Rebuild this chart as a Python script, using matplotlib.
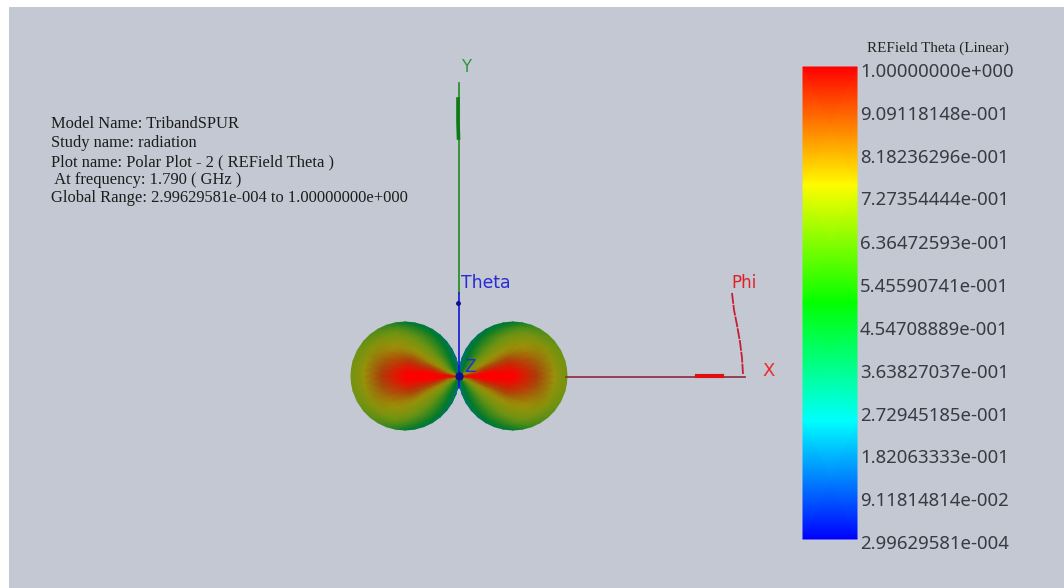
import numpy as np
import matplotlib
matplotlib.use('Agg')
import matplotlib.pyplot as plt
from matplotlib.colors import LinearSegmentedColormap

# info block
info_lines = ["Model Name: TribandSPUR",
              "Study name: radiation",
              "Plot name: Polar Plot - 2 ( REField Theta )",
              " At frequency: 1.790 ( GHz )",
              "Global Range: 2.99629581e-004 to 1.00000000e+000"]
info_y = [124, 143, 162, 180, 198]

# colorbar
bar_title = "REField Theta (Linear)"
bar_labels = ["1.00000000e+000", "9.09118148e-001", "8.18236296e-001",
              "7.27354444e-001", "6.36472593e-001", "5.45590741e-001",
              "4.54708889e-001", "3.63827037e-001", "2.72945185e-001",
              "1.82063333e-001", "9.11814814e-002", "2.99629581e-004"]
bar_label_y = [72, 115, 158, 200, 244, 287, 330, 373, 416, 458, 501, 544]
bar_pos = [0.0, 0.25, 0.5, 0.75, 1.0]
bar_col = ['#0000ff', '#00ffff', '#00ff00', '#ffff00', '#ff0000']

# lobe pattern, angle from the x axis in deg, length in px
lobe_angle = [0, 4, 8, 14, 20, 25, 30, 35, 40, 45, 50, 55, 60, 65, 70, 75, 80, 85, 88]
lobe_len = [108, 107.7, 107, 104.8, 101.5, 97.9, 93.5, 88.5, 82.7, 76.4,
            69.4, 61.9, 54, 45.6, 36.9, 28, 18.8, 9.4, 3.8]
lobe_frac = [0.02, 0.25, 0.5, 0.72, 0.88, 1.0]
lobe_val = [[1.00, 1.00, 1.00, 0.76, 0.58, 0.46],
            [0.92, 1.00, 0.98, 0.74, 0.57, 0.46],
            [0.80, 0.95, 0.92, 0.72, 0.56, 0.45],
            [0.66, 0.82, 0.84, 0.68, 0.55, 0.44],
            [0.55, 0.70, 0.73, 0.63, 0.53, 0.42],
            [0.50, 0.62, 0.66, 0.59, 0.50, 0.40],
            [0.46, 0.55, 0.58, 0.55, 0.47, 0.37],
            [0.42, 0.50, 0.52, 0.50, 0.44, 0.33],
            [0.38, 0.45, 0.47, 0.45, 0.39, 0.28],
            [0.33, 0.40, 0.42, 0.40, 0.33, 0.22],
            [0.30, 0.35, 0.37, 0.35, 0.28, 0.20],
            [0.26, 0.30, 0.32, 0.30, 0.25, 0.18],
            [0.22, 0.26, 0.27, 0.26, 0.22, 0.15],
            [0.17, 0.21, 0.23, 0.22, 0.18, 0.12],
            [0.13, 0.16, 0.18, 0.17, 0.14, 0.10],
            [0.09, 0.12, 0.13, 0.12, 0.10, 0.07],
            [0.05, 0.08, 0.08, 0.08, 0.07, 0.05],
            [0.02, 0.04, 0.04, 0.04, 0.03, 0.02],
            [0.00, 0.01, 0.02, 0.02, 0.02, 0.01]]
lobe_pos = [0.0, 0.22, 0.45, 0.6, 0.75, 1.0]
lobe_col = ['#00708a', '#007a2a', '#6f9412', '#a09008', '#a8400a', '#ff0000']

# origin and axis triad, in screen px
origin = (459, 376)
y_axis_x = [459, 459]
y_axis_y = [83, 293]
y_thick_x = [458, 458, 458.5]
y_thick_y = [99, 122, 138]
theta_x = [459, 459]
theta_y = [293, 388]
x_axis_x = [566, 745]
x_axis_y = [377, 377]
x_thick_x = [697, 722]
x_thick_y = [376, 376]
phi_x = [732, 734, 737, 740, 742, 743]
phi_y = [293, 310, 325, 342, 358, 374]

fig = plt.figure(figsize=(10.64, 5.88), dpi=100, facecolor='white')
ax = fig.add_axes([0, 0, 1, 1])
ax.axis('off')
ax.add_patch(plt.Rectangle((9, 7), 1055, 581, fc='#c3c8d2', ec='none', zorder=0))

# lobes
cmap_lobe = LinearSegmentedColormap.from_list('lobe', list(zip(lobe_pos, lobe_col)))
ang = np.array(lobe_angle, dtype=float)
val = np.array(lobe_val)
ang_all = np.concatenate([-ang[:0:-1], ang])
val_all = np.concatenate([val[:0:-1], val])
len_all = np.concatenate([np.array(lobe_len)[:0:-1], lobe_len])
t = np.radians(ang_all)[:, None]
f = np.array(lobe_frac)[None, :]
r = len_all[:, None] * f
for sgn in [1, -1]:
  xx = origin[0] + sgn * r * np.cos(t)
  yy = origin[1] - r * np.sin(t)
  ax.pcolormesh(xx, yy, val_all, cmap=cmap_lobe, vmin=0, vmax=1,
                shading='gouraud', zorder=2)

# axis triad
ax.plot(y_axis_x, y_axis_y, c='#1f8a1f', lw=1.2, zorder=3)
ax.plot(y_thick_x, y_thick_y, c='#0e7a14', lw=2.6, zorder=3)
ax.plot(theta_x, theta_y, c='#1414d2', lw=1.2, zorder=4)
ax.plot([458], [303], 'o', c='#10108a', ms=2.5, zorder=4)
ax.plot([origin[0]], [origin[1]], 'o', c='#10108a', ms=5, zorder=4)
ax.plot(x_axis_x, x_axis_y, c='#8c2a3a', lw=1.2, zorder=3)
ax.plot(x_thick_x, x_thick_y, c='#e01010', lw=3, zorder=3)
ax.plot(phi_x, phi_y, c='#c81e32', lw=1.3, ls=(0, (6, 0.6)), zorder=3)

ax.text(466, 67, "Y", color='#2e9a3a', fontsize=12, family='DejaVu Sans', ha='center', va='center')
ax.text(461, 283, "Theta", color='#2a2ad2', fontsize=12.4, family='DejaVu Sans', ha='left', va='center')
ax.text(731, 283, "Phi", color='#e01e28', fontsize=12, family='DejaVu Sans', ha='left', va='center')
ax.text(769, 371, "X", color='#ee2a2a', fontsize=13, family='DejaVu Sans', ha='center', va='center')
ax.text(470, 367, "Z", color='#2a2ad2', fontsize=12, family='DejaVu Sans', ha='center', va='center', zorder=5)

# info text
for s, y in zip(info_lines, info_y):
  ax.text(51, y, s, color='#1c1c1c', fontsize=11.85, family='Liberation Serif', ha='left', va='center')

# colorbar
cmap_bar = LinearSegmentedColormap.from_list('bar', list(zip(bar_pos, bar_col)))
bar_v = np.array(bar_pos)
bar_x = [803, 857]
bar_y = 539 + (67 - 539) * bar_v
ax.pcolormesh(bar_x, bar_y, np.column_stack([bar_v, bar_v]), cmap=cmap_bar, vmin=0, vmax=1,
              shading='gouraud', zorder=2)
ax.text(938, 48, bar_title, color='#222222', fontsize=10.9, family='Liberation Serif', ha='center', va='center')
for s, y in zip(bar_labels, bar_label_y):
  ax.text(860, y, s, color='#3a3a42', fontsize=13.4, family='Noto Sans', ha='left', va='center')

ax.set_xlim(0, 1064)
ax.set_ylim(588, 0)
fig.savefig('out.png', dpi=100)
